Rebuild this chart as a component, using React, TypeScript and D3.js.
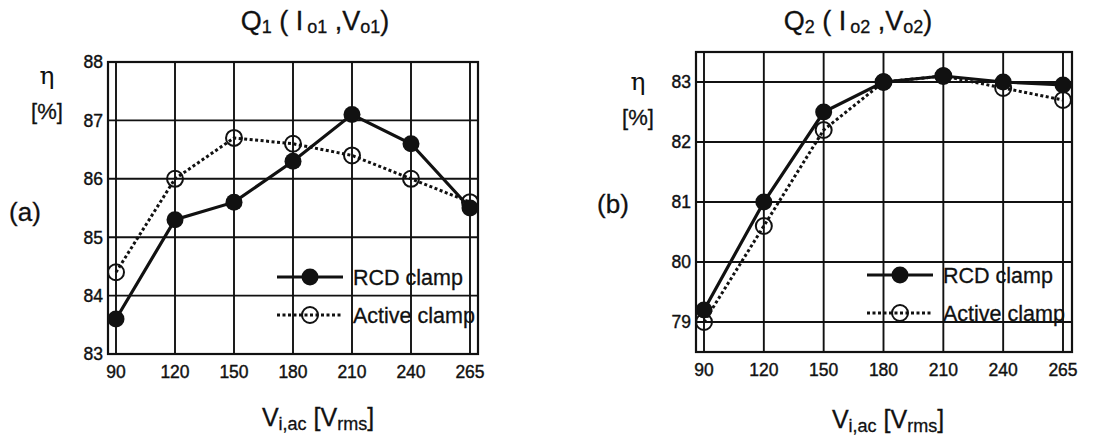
import React from 'react';
import * as d3 from 'd3';

// Input voltage categories (Vrms) shared by both panels
const voltages = ['90', '120', '150', '180', '210', '240', '265'];

// Panel (a): Q1 efficiency [%]
const rcdQ1 = [83.6, 85.3, 85.6, 86.3, 87.1, 86.6, 85.5];
const activeQ1 = [84.4, 86.0, 86.7, 86.6, 86.4, 86.0, 85.6];
const ticksQ1 = [83, 84, 85, 86, 87, 88];

// Panel (b): Q2 efficiency [%]
const rcdQ2 = [79.2, 81.0, 82.5, 83.0, 83.1, 83.0, 82.95];
const activeQ2 = [79.0, 80.6, 82.2, 83.0, 83.1, 82.9, 82.7];
const ticksQ2 = [79, 80, 81, 82, 83];

const seriesNames = ['RCD clamp', 'Active clamp'];

const FONT = '"Liberation Sans", Arial, Helvetica, sans-serif';
const INK = '#111';

type PanelProps = {
  frame: { x0: number; x1: number; y0: number; y1: number };
  inner: [number, number];
  yDomain: [number, number];
  yTicks: number[];
  rcd: number[];
  active: number[];
  titleNum: string;
  titleSub: string;
  titleX: number;
  tag: string;
  tagX: number;
  tagY: number;
  etaX: number;
  etaY: number;
  axisX: number;
  axisY: number;
  legendX: number;
  legendY: number;
};

function Panel(p: PanelProps) {
  const { frame } = p;
  const x = d3.scalePoint<string>().domain(voltages).range(p.inner);
  const y = d3.scaleLinear().domain(p.yDomain).range([frame.y1, frame.y0]);
  const line = d3
    .line<number>()
    .x((_, i) => x(voltages[i]) as number)
    .y((v) => y(v));

  const legendLineW = 66;
  const lx = p.legendX;
  return (
    <g fontFamily={FONT} fill={INK} stroke="none">
      {/* title */}
      <text x={p.titleX} y={30} fontSize={27} textAnchor="middle" stroke={INK} strokeWidth={0.3} xmlSpace="preserve">
        <tspan>Q</tspan>
        <tspan fontSize={18} dy={3}>{p.titleNum}</tspan>
        <tspan dy={-3}>{' ( I'}</tspan>
        <tspan fontSize={18} dy={3} dx={4}>{p.titleSub}</tspan>
        <tspan dy={-3}>{' ,V'}</tspan>
        <tspan fontSize={18} dy={3}>{p.titleSub}</tspan>
        <tspan dy={-3}>)</tspan>
      </text>

      {/* grid */}
      {p.yTicks.map((t) => (
        <line key={'h' + t} x1={frame.x0} x2={frame.x1} y1={y(t)} y2={y(t)} stroke={INK} strokeWidth={1.9} />
      ))}
      {voltages.map((v) => (
        <line key={'v' + v} x1={x(v)} x2={x(v)} y1={frame.y0} y2={frame.y1} stroke={INK} strokeWidth={1.9} />
      ))}
      <rect
        x={frame.x0}
        y={frame.y0}
        width={frame.x1 - frame.x0}
        height={frame.y1 - frame.y0}
        fill="none"
        stroke={INK}
        strokeWidth={2.2}
      />

      {/* tick labels */}
      {p.yTicks.map((t) => (
        <text key={'yt' + t} x={frame.x0 - 5} y={y(t)} dy="0.36em" fontSize={17.5} textAnchor="end" stroke={INK} strokeWidth={0.4}>
          {t}
        </text>
      ))}
      {voltages.map((v) => (
        <text key={'xt' + v} x={x(v)} y={frame.y1 + 24} fontSize={17.5} textAnchor="middle" stroke={INK} strokeWidth={0.4}>
          {v}
        </text>
      ))}

      {/* axis labels */}
      <text x={p.etaX} y={p.etaY} fontSize={25} textAnchor="middle" fontFamily='"DejaVu Serif", serif'>
        η
      </text>
      <text x={p.etaX} y={p.etaY + 35} fontSize={22} textAnchor="middle" stroke={INK} strokeWidth={0.3}>
        [%]
      </text>
      <text x={p.tagX} y={p.tagY} fontSize={26} textAnchor="middle" stroke={INK} strokeWidth={0.3}>
        ({p.tag})
      </text>
      <text x={p.axisX} y={p.axisY} fontSize={25} textAnchor="middle" stroke={INK} strokeWidth={0.3}>
        <tspan>V</tspan>
        <tspan fontSize={18} dy={4}>i,ac</tspan>
        <tspan dy={-4}> [V</tspan>
        <tspan fontSize={18} dy={4}>rms</tspan>
        <tspan dy={-4}>]</tspan>
      </text>

      {/* Active clamp (dotted, open circles) */}
      <path d={line(p.active) ?? ''} fill="none" stroke={INK} strokeWidth={3} strokeDasharray="3 2.5" />
      {p.active.map((v, i) => (
        <circle key={'a' + i} cx={x(voltages[i])} cy={y(v)} r={8} fill="none" stroke={INK} strokeWidth={2} />
      ))}

      {/* RCD clamp (solid, filled circles) */}
      <path d={line(p.rcd) ?? ''} fill="none" stroke={INK} strokeWidth={3.2} />
      {p.rcd.map((v, i) => (
        <circle key={'r' + i} cx={x(voltages[i])} cy={y(v)} r={8.5} fill={INK} />
      ))}

      {/* legend */}
      <line x1={lx} x2={lx + legendLineW} y1={p.legendY} y2={p.legendY} stroke={INK} strokeWidth={3.2} />
      <circle cx={lx + legendLineW / 2} cy={p.legendY} r={8.5} fill={INK} />
      <text x={lx + legendLineW + 10} y={p.legendY} dy="0.36em" fontSize={21.5} stroke={INK} strokeWidth={0.3}>
        {seriesNames[0]}
      </text>
      <line
        x1={lx}
        x2={lx + legendLineW}
        y1={p.legendY + 38}
        y2={p.legendY + 38}
        stroke={INK}
        strokeWidth={3}
        strokeDasharray="3 2.5"
      />
      <circle cx={lx + legendLineW / 2} cy={p.legendY + 38} r={8} fill="none" stroke={INK} strokeWidth={2} />
      <text x={lx + legendLineW + 10} y={p.legendY + 38} dy="0.36em" fontSize={21.5} stroke={INK} strokeWidth={0.3}>
        {seriesNames[1]}
      </text>
    </g>
  );
}

export default function App() {
  return (
    <svg
      width={1116}
      height={435}
      viewBox="0 0 1116 435"
      style={{ position: 'absolute', left: 0, top: 0, background: '#fff' }}
    >
      <rect width={1116} height={435} fill="#fff" />
      <Panel
        frame={{ x0: 108, x1: 478, y0: 62, y1: 354 }}
        inner={[116, 470]}
        yDomain={[83, 88]}
        yTicks={ticksQ1}
        rcd={rcdQ1}
        active={activeQ1}
        titleNum="1"
        titleSub="o1"
        titleX={315}
        tag="a"
        tagX={25}
        tagY={221}
        etaX={47}
        etaY={84}
        axisX={318}
        axisY={426}
        legendX={277}
        legendY={277}
      />
      <Panel
        frame={{ x0: 696, x1: 1072, y0: 52, y1: 352 }}
        inner={[704, 1063]}
        yDomain={[78.5, 83.5]}
        yTicks={ticksQ2}
        rcd={rcdQ2}
        active={activeQ2}
        titleNum="2"
        titleSub="o2"
        titleX={858}
        tag="b"
        tagX={613}
        tagY={213}
        etaX={638}
        etaY={90}
        axisX={888}
        axisY={428}
        legendX={867}
        legendY={275}
      />
    </svg>
  );
}
